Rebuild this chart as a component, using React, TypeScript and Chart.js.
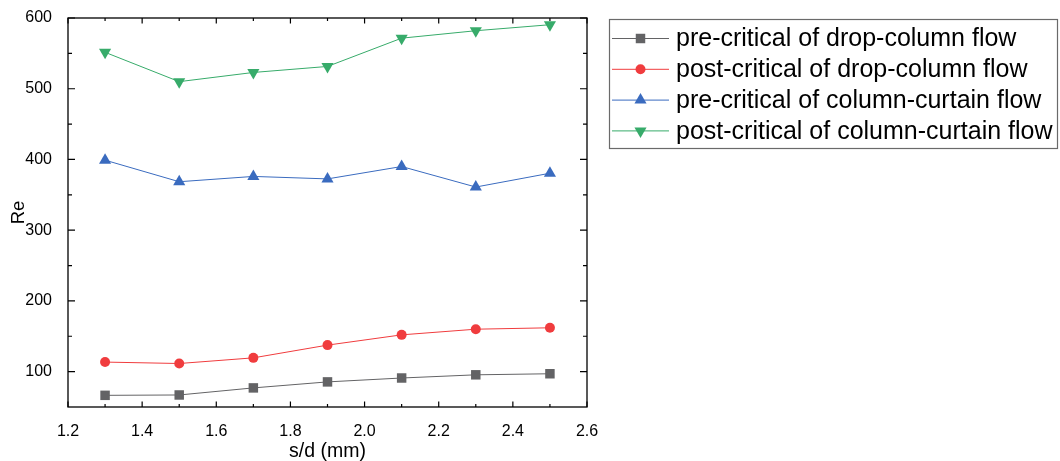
import React, { useEffect, useRef } from "react";
import { Chart, registerables } from "chart.js";

Chart.register(...registerables);

const FONT = "'Liberation Sans', Arial, sans-serif";

// s/d (mm)
const xValues = [1.3, 1.5, 1.7, 1.9, 2.1, 2.3, 2.5];
// Re values
const preDrop = [66.5, 67, 77, 85.5, 91, 95.5, 97];
const postDrop = [113.5, 111.5, 119.5, 137.5, 152, 160, 162];
const preCurtain = [399, 368.5, 376, 372.5, 390, 361, 380.5];
const postCurtain = [551.5, 510, 523, 531.5, 571.5, 582, 590.5];

const seriesLabels = [
  "pre-critical of drop-column flow",
  "post-critical of drop-column flow",
  "pre-critical of column-curtain flow",
  "post-critical of column-curtain flow",
];
const seriesColors = ["#636365", "#f03c3e", "#3a6bbf", "#37ab6a"];
const seriesValues = [preDrop, postDrop, preCurtain, postCurtain];
const seriesMarkers = ["rect", "circle", "triangle", "triangleDown"];

const xTickValues = [1.2, 1.4, 1.6, 1.8, 2.0, 2.2, 2.4, 2.6];
const xMinorValues = [1.3, 1.5, 1.7, 1.9, 2.1, 2.3, 2.5];
const yTickValues = [100, 200, 300, 400, 500, 600];
const yMinorValues = [150, 250, 350, 450, 550];

const markerRadius: Record<string, number> = {
  rect: 6.7,
  circle: 5,
  triangle: 7,
  triangleDown: 7,
};

function drawMarker(ctx: CanvasRenderingContext2D, kind: string, x: number, y: number, color: string) {
  const r = markerRadius[kind];
  ctx.save();
  ctx.fillStyle = color;
  ctx.beginPath();
  if (kind === "rect") {
    const s = Math.SQRT1_2 * r;
    ctx.rect(x - s, y - s, 2 * s, 2 * s);
  } else if (kind === "circle") {
    ctx.arc(x, y, r, 0, Math.PI * 2);
  } else {
    const base = kind === "triangle" ? 0 : Math.PI;
    for (let i = 0; i < 3; i++) {
      const a = base + (i * 2 * Math.PI) / 3;
      const px = x + Math.sin(a) * r;
      const py = y - Math.cos(a) * r;
      if (i === 0) ctx.moveTo(px, py);
      else ctx.lineTo(px, py);
    }
    ctx.closePath();
  }
  ctx.fill();
  ctx.restore();
}

const framePlugin = {
  id: "frameTicks",
  afterDraw(chart: any) {
    const { ctx, chartArea } = chart;
    const { left, right, top, bottom } = chartArea;
    const xs = chart.scales.x;
    const ys = chart.scales.y;
    ctx.save();
    ctx.strokeStyle = "#000";
    ctx.lineWidth = 1.3;
    ctx.strokeRect(left, top, right - left, bottom - top);
    ctx.lineWidth = 1.2;
    ctx.beginPath();
    const xt = (v: number, len: number) => {
      const p = xs.getPixelForValue(v);
      ctx.moveTo(p, bottom);
      ctx.lineTo(p, bottom - len);
      ctx.moveTo(p, top);
      ctx.lineTo(p, top + len);
    };
    const yt = (v: number, len: number) => {
      const p = ys.getPixelForValue(v);
      ctx.moveTo(left, p);
      ctx.lineTo(left + len, p);
      ctx.moveTo(right, p);
      ctx.lineTo(right - len, p);
    };
    xTickValues.forEach((v) => xt(v, 5.5));
    xMinorValues.forEach((v) => xt(v, 3));
    yTickValues.forEach((v) => yt(v, 7));
    yMinorValues.forEach((v) => yt(v, 4));
    ctx.stroke();
    ctx.restore();
  },
};

const legendPlugin = {
  id: "boxLegend",
  afterDraw(chart: any) {
    const { ctx } = chart;
    const boxLeft = 609.5;
    const boxTop = 19.5;
    const boxW = 448;
    const boxH = 129;
    ctx.save();
    ctx.strokeStyle = "#6a6a6a";
    ctx.lineWidth = 1.2;
    ctx.strokeRect(boxLeft, boxTop, boxW, boxH);
    ctx.font = `25px ${FONT}`;
    ctx.textBaseline = "middle";
    ctx.textAlign = "left";
    chart.data.datasets.forEach((ds: any, i: number) => {
      const y = 38.5 + i * 30.8;
      ctx.strokeStyle = ds.borderColor;
      ctx.lineWidth = 1;
      ctx.beginPath();
      ctx.moveTo(612, y);
      ctx.lineTo(669, y);
      ctx.stroke();
      drawMarker(ctx, seriesMarkers[i], 640.5, y, ds.backgroundColor);
      ctx.fillStyle = "#000";
      ctx.fillText(ds.label, 676, y + 1);
    });
    ctx.restore();
  },
};

export default function App() {
  const canvasRef = useRef<HTMLCanvasElement | null>(null);

  useEffect(() => {
    document.body.style.margin = "0";
    const canvas = canvasRef.current;
    if (!canvas) return;
    const datasets = seriesValues.map((vals, i) => {
      const kind = seriesMarkers[i];
      return {
        label: seriesLabels[i],
        data: xValues.map((x, j) => ({ x, y: vals[j] })),
        borderColor: seriesColors[i],
        backgroundColor: seriesColors[i],
        borderWidth: 1,
        pointStyle: kind === "triangleDown" ? "triangle" : kind,
        rotation: kind === "triangleDown" ? 180 : 0,
        pointRadius: markerRadius[kind],
        pointBorderWidth: 0,
        pointBackgroundColor: seriesColors[i],
        pointBorderColor: seriesColors[i],
        tension: 0,
      };
    });
    const chart = new Chart(canvas, {
      type: "line",
      data: { datasets },
      options: {
        animation: false,
        responsive: false,
        devicePixelRatio: 1,
        layout: { padding: { top: 18, right: 473, left: 0, bottom: 0 } },
        plugins: { legend: { display: false }, tooltip: { enabled: false } },
        scales: {
          x: {
            type: "linear",
            min: 1.2,
            max: 2.6,
            grid: { display: false },
            border: { display: false },
            afterBuildTicks: (s: any) => {
              s.ticks = xTickValues.map((v) => ({ value: v }));
            },
            afterFit: (s: any) => {
              s.height = 54;
            },
            ticks: {
              font: { family: FONT, size: 16 },
              color: "#000",
              padding: 7,
              maxRotation: 0,
              autoSkip: false,
              callback: (v: any) => Number(v).toFixed(1),
            },
            title: {
              display: true,
              text: "s/d (mm)",
              font: { family: FONT, size: 19.5 },
              color: "#000",
              padding: { top: 0, bottom: -2 },
            },
          },
          y: {
            type: "linear",
            min: 50,
            max: 600,
            grid: { display: false },
            border: { display: false },
            afterBuildTicks: (s: any) => {
              s.ticks = yTickValues.map((v) => ({ value: v }));
            },
            afterFit: (s: any) => {
              s.width = 68;
            },
            ticks: {
              font: { family: FONT, size: 16 },
              color: "#000",
              padding: 8,
              autoSkip: false,
              callback: (v: any) => String(v),
            },
            title: {
              display: true,
              text: "Re",
              font: { family: FONT, size: 18.5 },
              color: "#000",
              padding: { top: 8, bottom: 0 },
            },
          },
        },
      },
      plugins: [framePlugin, legendPlugin],
    } as any);
    return () => chart.destroy();
  }, []);

  return (
    <div style={{ width: 1060, height: 461, background: "#fff" }}>
      <canvas ref={canvasRef} width={1060} height={461} style={{ display: "block" }} />
    </div>
  );
}
